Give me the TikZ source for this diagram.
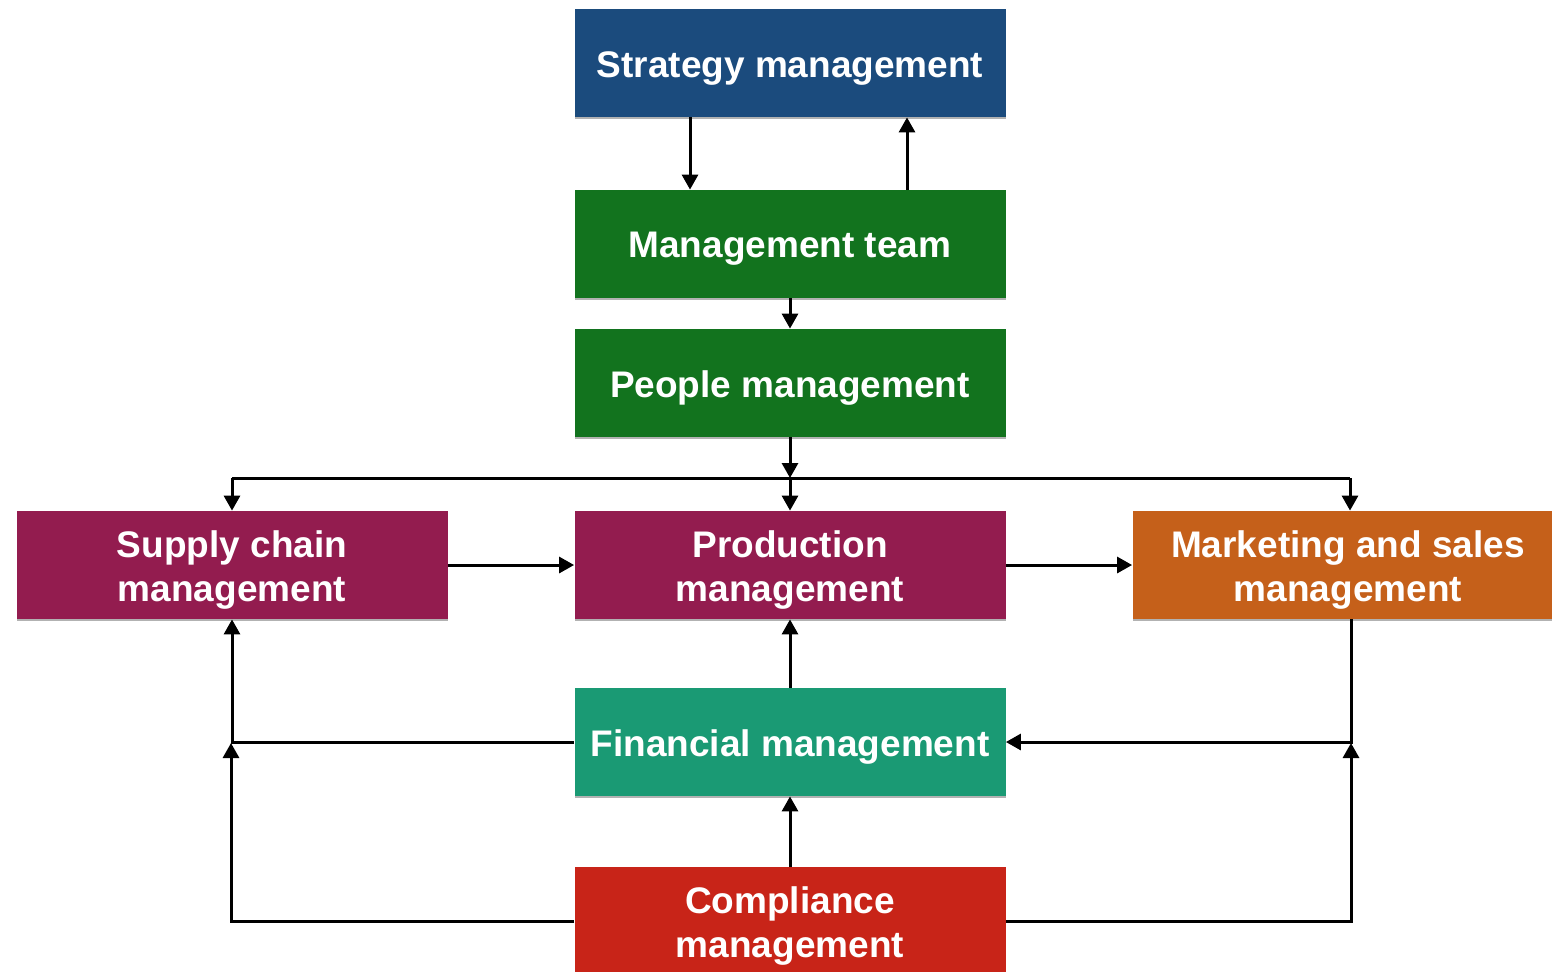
\documentclass[tikz,border=0pt]{standalone}
\usepackage{fontspec}
\setmainfont{Liberation Sans}
\usetikzlibrary{arrows.meta,shadows}

\definecolor{cstrat}{HTML}{1B4B7D}
\definecolor{cgreen}{HTML}{12731E}
\definecolor{cmaroon}{HTML}{931C4F}
\definecolor{corange}{HTML}{C5601A}
\definecolor{cteal}{HTML}{1A9A74}
\definecolor{cred}{HTML}{C82418}

\tikzset{
  box/.style={rectangle, minimum width=215.5pt, minimum height=54pt,
    inner sep=0pt,
    drop shadow={shadow xshift=0.4pt, shadow yshift=-1pt, opacity=0.3, fill=black}},
  txt/.style={text=white, align=center, inner sep=0pt, yshift=-2.5pt,
    font=\bfseries\fontsize{18.5}{22}\selectfont},
  arr/.style={-{Triangle[length=7.5pt,width=8pt]}, line width=1.5pt},
  link/.style={line width=1.5pt}
}

\begin{document}
\begin{tikzpicture}[x=0.5pt, y=-0.5pt]
  \useasboundingbox (0,0) rectangle (1552,971);
  \clip (0,0) rectangle (1552,971);
  \fill[white] (0,0) rectangle (1552,971);

  % boxes, each with its label set a little below the centre
  \node[box, fill=cstrat]  (strategy) at (790,63)  {};
  \node[box, fill=cgreen]  (team)     at (790,244) {};
  \node[box, fill=cgreen]  (people)   at (790,383) {};
  \node[box, fill=cmaroon] (supply)   at (232,565) {};
  \node[box, fill=cmaroon] (prod)     at (790,565) {};
  \node[box, fill=corange] (market)   at (1348,565) {};
  \node[box, fill=cteal]   (fin)      at (790,742) {};
  \node[box, fill=cred]    (comp)     at (790,921) {};

  \node[txt] (strategy-t) at (strategy) {Strategy management};
  \node[txt] (team-t)     at (team)     {Management team};
  \node[txt] (people-t)   at (people)   {People management};
  \node[txt] (supply-t)   at (supply)   {Supply chain\\management};
  \node[txt] (prod-t)     at (prod)     {Production\\management};
  \node[txt] (market-t)   at (market)   {Marketing and sales\\management};
  \node[txt] (fin-t)      at (fin)      {Financial management};
  \node[txt] (comp-t)     at (comp)     {Compliance\\management};

  % junction points
  \coordinate (jt) at (790,478);
  \coordinate (jl) at (232,478);
  \coordinate (jr) at (1350,478);
  \coordinate (jfl) at (231,743);
  \coordinate (jfr) at (1351,743);

  % top chain
  \draw[arr] ([xshift=-50pt]strategy.south) -- ([xshift=-50pt]team.north);
  \draw[arr] ([xshift=58.5pt]team.north) -- ([xshift=58.5pt]strategy.south);
  \draw[arr] (team) -- (people);

  % distribution from people management
  \draw[arr] (people) -- (jt);
  \draw[link] (jl) -- (jr);
  \draw[arr] (jl) -- (supply);
  \draw[arr] (jt) -- (prod);
  \draw[arr] (jr) -- (jr |- market.north);

  % middle row
  \draw[arr] (supply) -- (prod);
  \draw[arr] (prod) -- (market);

  % financial feedback
  \draw[arr] (fin) -- (prod);
  \draw[arr] (fin.west) -| (supply.south);
  \draw[arr] (market.south -| jfr) |- (fin.east);

  % compliance feedback
  \draw[arr] (comp) -- (fin);
  \draw[arr] (comp.west) -| (jfl);
  \draw[arr] (comp.east) -| (jfr);
\end{tikzpicture}
\end{document}
